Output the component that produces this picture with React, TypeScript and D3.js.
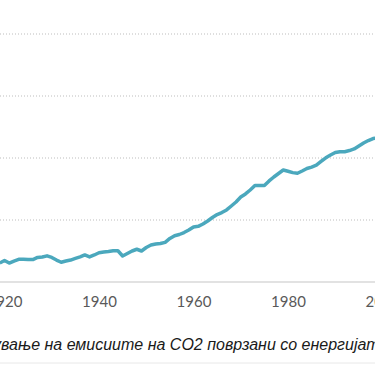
import React, { useEffect, useRef } from 'react';
import * as d3 from 'd3';

const years = d3.range(1919, 2000);
const emissions = [
  1.53, 1.73, 1.53, 1.69, 1.83, 1.83, 1.81, 1.81, 1.98, 2.02,
  2.11, 1.98, 1.77, 1.59, 1.69, 1.77, 1.9, 2.02, 2.18, 2.02,
  2.18, 2.36, 2.42, 2.46, 2.52, 2.52, 2.1, 2.3, 2.5, 2.64,
  2.5, 2.78, 2.98, 3.06, 3.1, 3.2, 3.51, 3.73, 3.83, 3.99,
  4.19, 4.44, 4.49, 4.68, 4.92, 5.2, 5.44, 5.6, 5.81, 6.13,
  6.45, 6.85, 7.1, 7.42, 7.78, 7.78, 7.78, 8.15, 8.47, 8.75,
  9.03, 8.93, 8.82, 8.77, 8.95, 9.15, 9.27, 9.42, 9.72, 10.02,
  10.24, 10.44, 10.51, 10.51, 10.6, 10.73, 10.97, 11.21, 11.41, 11.57,
  11.61,
];
const xTicks = [1920, 1940, 1960, 1980, 2000];
const yGrid = [5, 10, 15, 20];
const caption = 'Зголемување на емисиите на CO2 поврзани со енергијата';
const hiddenPrefix = 'Зголему';

function App() {
  const ref = useRef<SVGSVGElement>(null);

  useEffect(() => {
    const width = 375, height = 366;
    const svg = d3.select(ref.current).attr('width', width).attr('height', height);
    svg.selectAll('*').remove();

    const x = d3.scaleLinear().domain([1920, 2000]).range([4.5, 382.5]);
    const y = d3.scaleLinear().domain([0, 20]).range([282, 34]);

    // dotted gridlines
    svg.append('g')
      .selectAll('line')
      .data(yGrid)
      .join('line')
      .attr('x1', 0)
      .attr('x2', width)
      .attr('y1', (d) => y(d))
      .attr('y2', (d) => y(d))
      .attr('stroke', '#bdbdbd')
      .attr('stroke-width', 1)
      .attr('stroke-dasharray', '1,2');

    // x axis
    const axis = svg.append('g')
      .attr('transform', `translate(0,${y(0)})`)
      .call(d3.axisBottom(x).tickValues(xTicks).tickFormat(d3.format('d')).tickSize(0).tickPadding(14));
    axis.select('.domain').remove();
    axis.append('line')
      .attr('x1', 0).attr('x2', width)
      .attr('stroke', '#d9d9d9').attr('stroke-width', 1.5);
    axis.selectAll('text')
      .attr('font-family', 'Lato, sans-serif')
      .attr('font-size', 15)
      .attr('fill', '#595959');

    const line = d3.line<number>()
      .x((_, i) => x(years[i]))
      .y((d) => y(d));

    svg.append('path')
      .datum(emissions)
      .attr('fill', 'none')
      .attr('stroke', '#4ba8bd')
      .attr('stroke-width', 3.5)
      .attr('stroke-linejoin', 'round')
      .attr('d', line);

    // caption, cut at the left edge like the source
    const cap = svg.append('text')
      .attr('y', 350)
      .attr('font-family', '"Liberation Sans", Arial, sans-serif')
      .attr('font-style', 'italic')
      .attr('font-size', 16)
      .attr('fill', '#1a1a1a')
      .text(caption);
    const node = cap.node() as SVGTextElement;
    const shift = node.getSubStringLength(0, hiddenPrefix.length);
    cap.attr('x', 1 - shift);

    svg.append('line')
      .attr('x1', 0).attr('x2', width)
      .attr('y1', 363).attr('y2', 363)
      .attr('stroke', '#e8e8e8').attr('stroke-width', 1);
  }, []);

  return (
    <svg ref={ref} style={{ position: 'absolute', left: 0, top: 0, background: '#fff' }}></svg>
  );
}

export default App;
